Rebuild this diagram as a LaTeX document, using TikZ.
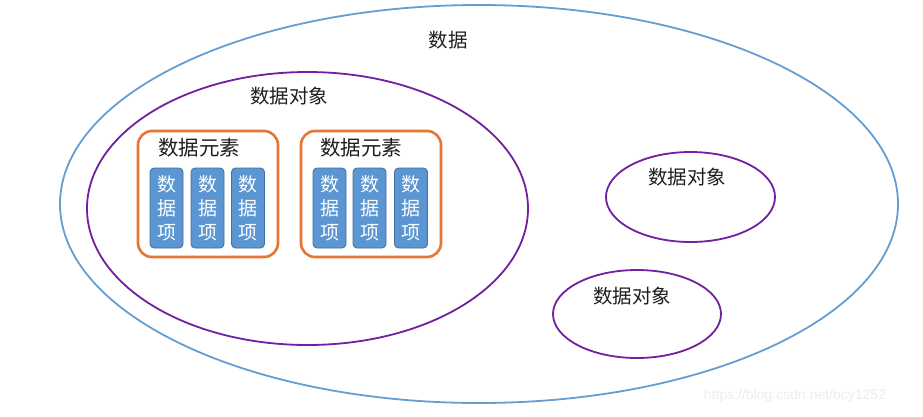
\documentclass[tikz,border=0pt]{standalone}
\usepackage{fontspec}
\newfontfamily\cjk{Noto Sans CJK SC}
\setsansfont{Liberation Sans}
\definecolor{outerblue}{RGB}{100,158,210}
\definecolor{objpurple}{RGB}{112,32,160}
\definecolor{elemorange}{RGB}{230,118,50}
\definecolor{itemfill}{RGB}{91,150,210}
\definecolor{itemdraw}{RGB}{65,113,156}
\definecolor{txt}{RGB}{30,30,30}
\begin{document}
\begin{tikzpicture}[x=1pt,y=-1pt,
  lbl/.style={font=\cjk\fontsize{19.5}{21}\selectfont, text=txt, inner sep=0pt},
  elbl/.style={font=\cjk\fontsize{20.5}{22}\selectfont, text=txt, inner sep=0pt},
  elembox/.style={draw=elemorange, line width=2.6pt, rounded corners=14pt, minimum width=140pt, minimum height=126pt, inner sep=0pt},
  itembox/.style={draw=itemdraw, line width=0.8pt, fill=itemfill, rounded corners=4pt, minimum width=33pt, minimum height=80pt, inner sep=0pt,
    font=\cjk\fontsize{19}{24}\selectfont, text=white, align=center},
  objell/.style={draw=objpurple, line width=1.8pt}
]
\useasboundingbox (0,0) rectangle (923,416);
\fill[white] (0,0) rectangle (923,416);
% outer
\draw[draw=outerblue, line width=1.8pt] (479,204) ellipse [x radius=419, y radius=199];
\node[lbl] (data) at (448,40) {数据};
% big object
\draw[objell] (307.5,208.5) ellipse [x radius=220.5, y radius=136.5];
\node[lbl] (obj1) at (289,96) {数据对象};
% elements
\node[elembox] (e1) at (208,194) {};
\node[elembox] (e2) at (371,194) {};
\node[elbl] (e1t) at (199,148) {数据元素};
\node[elbl] (e2t) at (361,148) {数据元素};
% items
\foreach \n/\x in {a/166.5,b/207.5,c/248,d/329.5,e/369.5,f/411}{
  \node[itembox] (i\n) at (\x,208) {数\\据\\项};
}
% small objects
\draw[objell] (690.5,197) ellipse [x radius=84.5, y radius=45];
\node[lbl] (obj2) at (687,177) {数据对象};
\draw[objell] (637,314) ellipse [x radius=84, y radius=44];
\node[lbl] (obj3) at (632,296) {数据对象};
% watermark
\node[font=\sffamily\fontsize{14}{14}\selectfont, text=black!7, inner sep=0pt] (wm) at (795,396) {https://blog.csdn.net/bcy1252};
\end{tikzpicture}
\end{document}
